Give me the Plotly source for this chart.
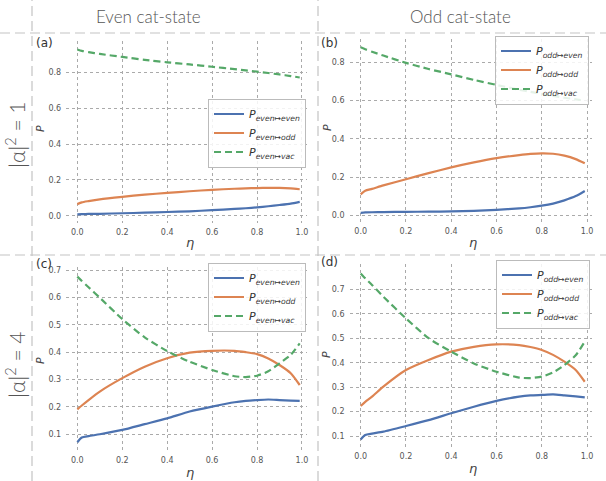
import plotly.graph_objects as go

eta = [0, 0.02, 0.05, 0.1, 0.2, 0.3, 0.4, 0.5, 0.6, 0.7, 0.75, 0.8, 0.85, 0.9, 0.95, 0.99]

a_even = [0.008, 0.009, 0.010, 0.011, 0.014, 0.017, 0.021, 0.025, 0.031, 0.038, 0.042, 0.047, 0.053, 0.060, 0.068, 0.078]
a_odd = [0.065, 0.075, 0.082, 0.092, 0.106, 0.118, 0.128, 0.137, 0.145, 0.151, 0.153, 0.155, 0.156, 0.156, 0.153, 0.148]
a_vac = [0.930, 0.922, 0.915, 0.905, 0.888, 0.872, 0.858, 0.846, 0.833, 0.820, 0.813, 0.806, 0.798, 0.790, 0.781, 0.773]

b_even = [0.015, 0.017, 0.018, 0.019, 0.020, 0.021, 0.022, 0.025, 0.030, 0.038, 0.044, 0.052, 0.063, 0.080, 0.102, 0.129]
b_odd = [0.111, 0.130, 0.140, 0.158, 0.190, 0.222, 0.252, 0.278, 0.300, 0.316, 0.322, 0.325, 0.323, 0.313, 0.295, 0.273]
b_vac = [0.878, 0.868, 0.855, 0.835, 0.797, 0.765, 0.737, 0.708, 0.682, 0.657, 0.646, 0.635, 0.625, 0.615, 0.607, 0.600]

c_even = [0.071, 0.088, 0.093, 0.100, 0.116, 0.137, 0.158, 0.183, 0.201, 0.217, 0.222, 0.225, 0.227, 0.225, 0.223, 0.222]
c_odd = [0.191, 0.205, 0.225, 0.256, 0.305, 0.347, 0.378, 0.398, 0.405, 0.405, 0.400, 0.393, 0.377, 0.353, 0.323, 0.280]
c_vac = [0.676, 0.660, 0.637, 0.599, 0.521, 0.454, 0.404, 0.365, 0.335, 0.312, 0.309, 0.314, 0.330, 0.359, 0.390, 0.432]

d_even = [0.086, 0.104, 0.110, 0.118, 0.141, 0.165, 0.193, 0.220, 0.244, 0.261, 0.266, 0.268, 0.270, 0.266, 0.262, 0.258]
d_odd = [0.223, 0.240, 0.261, 0.302, 0.370, 0.411, 0.445, 0.465, 0.475, 0.472, 0.464, 0.452, 0.432, 0.404, 0.370, 0.322]
d_vac = [0.765, 0.745, 0.718, 0.670, 0.581, 0.500, 0.445, 0.397, 0.363, 0.339, 0.337, 0.343, 0.360, 0.390, 0.430, 0.486]

col_titles = ["Even cat-state", "Odd cat-state"]
row_titles = ["|α|<sup>2</sup> = 1", "|α|<sup>2</sup> = 4"]
panel_tags = ["(a)", "(b)", "(c)", "(d)"]
x_ticks = [0, 0.2, 0.4, 0.6, 0.8, 1.0]
y_ticks_top = [0, 0.2, 0.4, 0.6, 0.8]
y_ticks_bot = [0.1, 0.2, 0.3, 0.4, 0.5, 0.6, 0.7]

W, H = 606, 481
BLUE, ORANGE, GREEN = "#4C72B0", "#DD8452", "#55A868"

def px(x):
    return x / W

def py(y):
    return 1 - y / H

panels = [
    dict(data=(a_even, a_odd, a_vac), src="even", xd=(66.2, 306.9), yd=(41.2, 222.9), yr=[-0.04, 0.976], yt=y_ticks_top),
    dict(data=(b_even, b_odd, b_vac), src="odd", xd=(349.5, 592.0), yd=(38.6, 222.1), yr=[-0.0335, 0.9235], yt=y_ticks_top),
    dict(data=(c_even, c_odd, c_vac), src="even", xd=(66.2, 306.9), yd=(267.3, 450.7), yr=[0.04, 0.71], yt=y_ticks_bot),
    dict(data=(d_even, d_odd, d_vac), src="odd", xd=(349.5, 592.0), yd=(263.9, 446.8), yr=[0.056, 0.804], yt=y_ticks_bot),
]
legend_center = [(306, 133), (589, 70), (306, 297), (590, 294)]

fig = go.Figure()
layout = {}
tick_font = dict(family="DejaVu Sans", size=8, color="#555555")
for i, p in enumerate(panels):
    n = "" if i == 0 else str(i + 1)
    xa, ya = "x" + n, "y" + n
    lg = "legend" + n
    names = ["even", "odd", "vac"]
    colors = [BLUE, ORANGE, GREEN]
    for k in range(3):
        fig.add_trace(go.Scatter(
            x=eta, y=p["data"][k], mode="lines", xaxis=xa, yaxis=ya, legend=lg,
            line=dict(color=colors[k], width=2.2, shape="spline", smoothing=0.6,
                      dash="7px,4px" if k == 2 else "solid"),
            name="<i>P</i><sub><i>%s↦%s</i></sub>" % (p["src"], names[k]),
        ))
    layout["xaxis" + n] = dict(
        domain=[px(p["xd"][0]), px(p["xd"][1])], anchor=ya, range=[-0.0495, 1.022],
        tickvals=x_ticks, tickformat=".1f", showgrid=True, gridcolor="#aaaaaa",
        griddash="dot", gridwidth=1, zeroline=False, showline=False, ticks="",
        tickfont=tick_font, ticklabelstandoff=3,
    )
    layout["yaxis" + n] = dict(
        domain=[py(p["yd"][1]), py(p["yd"][0])], anchor=xa, range=p["yr"],
        tickvals=p["yt"], tickformat=".1f", showgrid=True, gridcolor="#aaaaaa",
        griddash="dot", gridwidth=1, zeroline=False, showline=False, ticks="",
        tickfont=tick_font, ticklabelstandoff=4,
    )
    lx, ly = legend_center[i]
    layout[lg] = dict(
        x=px(lx), y=py(ly), xanchor="right", yanchor="middle", bgcolor="rgba(255,255,255,0.85)",
        bordercolor="#bbbbbb", borderwidth=1, font=dict(family="DejaVu Sans", size=11, color="#333333"),
        tracegroupgap=0, itemwidth=30,
    )

annotations = []

def ann(text, x, y, size, color, family="DejaVu Sans", angle=0, xanchor="center", weight=None):
    f = dict(family=family, size=size, color=color)
    if weight:
        f["weight"] = weight
    annotations.append(dict(text=text, x=px(x), y=py(y), xref="paper", yref="paper", showarrow=False,
                            xanchor=xanchor, yanchor="middle", textangle=angle, font=f))

for t, x in zip(col_titles, [148, 460]):
    ann(t, x, 17, 17, "#555555", family="Lato", weight=300)
for t, y in zip(row_titles, [135, 365]):
    ann(t, 15, y, 21, "#555555", family="Lato", angle=-90, weight=300)
for t, (x, y) in zip(panel_tags, [(34, 43), (319, 43), (34, 264), (319, 262)]):
    ann(t, x, y, 12, "#333333", xanchor="left")
for (x, y) in [(190, 242), (473, 242), (190, 472), (473, 468)]:
    ann("<i>η</i>", x, y, 13, "#444444")
for (x, y) in [(40, 128), (327, 128), (40, 360), (326, 355)]:
    ann("<i>P</i>", x, y, 11, "#444444", angle=-90)

shapes = []
dash_line = dict(color="#c4c4c4", width=1.2, dash="10px,5px")
for y in [33, 255]:
    shapes.append(dict(type="line", xref="paper", yref="paper", x0=0, x1=1, y0=py(y), y1=py(y), line=dash_line))
for x in [32, 318]:
    shapes.append(dict(type="line", xref="paper", yref="paper", x0=px(x), x1=px(x), y0=0, y1=1, line=dash_line))

fig.update_layout(
    width=W, height=H, margin=dict(l=0, r=0, t=0, b=0),
    paper_bgcolor="white", plot_bgcolor="white", showlegend=True,
    annotations=annotations, shapes=shapes, **layout,
)
fig.write_html("out.html", config={"displayModeBar": False},
               post_script="document.body.style.margin='0';document.body.style.overflow='hidden';")
